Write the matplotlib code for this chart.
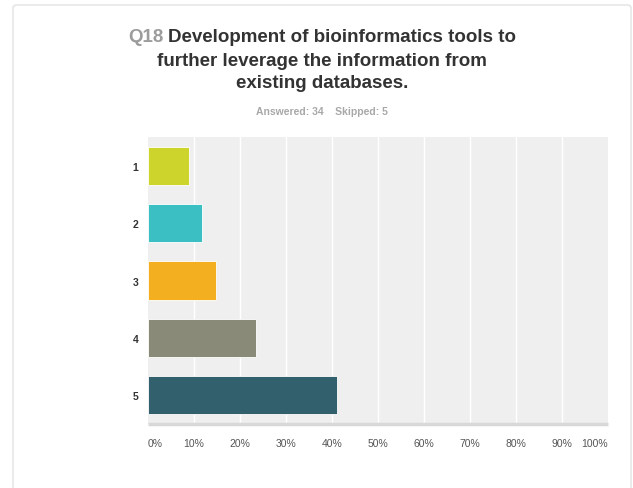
import matplotlib
matplotlib.use("Agg")
import matplotlib.pyplot as plt
from matplotlib.patches import FancyBboxPatch

# Survey results: share of respondents per rating
categories = ["1", "2", "3", "4", "5"]
counts = [3, 4, 5, 8, 14]
answered = 34
skipped = 5
shares = [c / answered * 100 for c in counts]
bar_colors = ["#cdd42b", "#3bbfc2", "#f3af1f", "#8a8a79", "#32606c"]
x_ticks = [0, 10, 20, 30, 40, 50, 60, 70, 80, 90, 100]
x_tick_labels = [f"{t}%" for t in x_ticks]

W, H = 633, 489
fig = plt.figure(figsize=(W / 100, H / 100), dpi=100)
fig.patch.set_facecolor("white")
plt.rcParams["font.family"] = ["Liberation Sans", "DejaVu Sans"]

# Card outline
card = FancyBboxPatch((13 / W, -20 / H), (631 - 13) / W, (H - 6 + 20) / H,
                      boxstyle="round,pad=0,rounding_size=0.006",
                      transform=fig.transFigure, facecolor="white",
                      edgecolor="#e2e2e2", linewidth=1.0, zorder=-5)
fig.patches.append(card)

# Plot area
left, right, top, bottom = 148, 608, 138, 425
ax = fig.add_axes([left / W, 1 - bottom / H, (right - left) / W, (bottom - top) / H])
ax.set_zorder(2)
ax.set_facecolor("#efefef")
ypos = list(range(len(categories)))
ax.barh(ypos, shares, height=0.665, color=bar_colors, edgecolor="white",
        linewidth=0.6, zorder=3)
ax.set_xlim(0, 100)
ax.set_ylim(len(categories) - 0.5, -0.5)
ax.set_xticks(x_ticks)
for t in x_ticks[1:-1]:
    ax.axvline(t, color="white", linewidth=1.0, zorder=1)
ax.axhline(len(categories) - 0.5, color="#d8d8d8", linewidth=2.5, zorder=4,
           clip_on=False, solid_capstyle="butt")
for s in ax.spines.values():
    s.set_visible(False)
ax.tick_params(length=0)
ax.set_xticklabels(x_tick_labels, fontsize=7.5, color="#555555")
ax.tick_params(axis="x", pad=10)
xl = ax.get_xticklabels()
xl[0].set_horizontalalignment("left")
xl[-1].set_horizontalalignment("right")
ax.set_yticks(ypos)
ax.set_yticklabels(categories, fontsize=7.5, fontweight="bold", color="#333333")
ax.tick_params(axis="y", pad=7)

# Title: question number in grey, question text in dark grey
cx = 322 / W
title_lines = ["Development of bioinformatics tools to",
               "further leverage the information from",
               "existing databases."]
fs = 13.5
r = fig.canvas.get_renderer()
t_q = fig.text(0, 0, "Q18", fontsize=fs, fontweight="bold", color="#9c9c9c")
t_1 = fig.text(0, 0, title_lines[0], fontsize=fs, fontweight="bold", color="#333333")
wq = t_q.get_window_extent(r).width
w1 = t_1.get_window_extent(r).width
gap = 4
x0 = 322 - (wq + gap + w1) / 2
t_q.set_position((x0 / W, 1 - 38 / H))
t_q.set_va("center")
t_1.set_position(((x0 + wq + gap) / W, 1 - 38 / H))
t_1.set_va("center")
fig.text(cx, 1 - 61 / H, title_lines[1], fontsize=fs, fontweight="bold",
         color="#333333", ha="center", va="center")
fig.text(cx, 1 - 83.5 / H, title_lines[2], fontsize=fs, fontweight="bold",
         color="#333333", ha="center", va="center")
fig.text(cx, 1 - 112 / H, f"Answered: {answered}    Skipped: {skipped}",
         fontsize=7.5, fontweight="bold", color="#a8a8a8", ha="center", va="center")

fig.savefig("out.png", dpi=100, facecolor="white")
